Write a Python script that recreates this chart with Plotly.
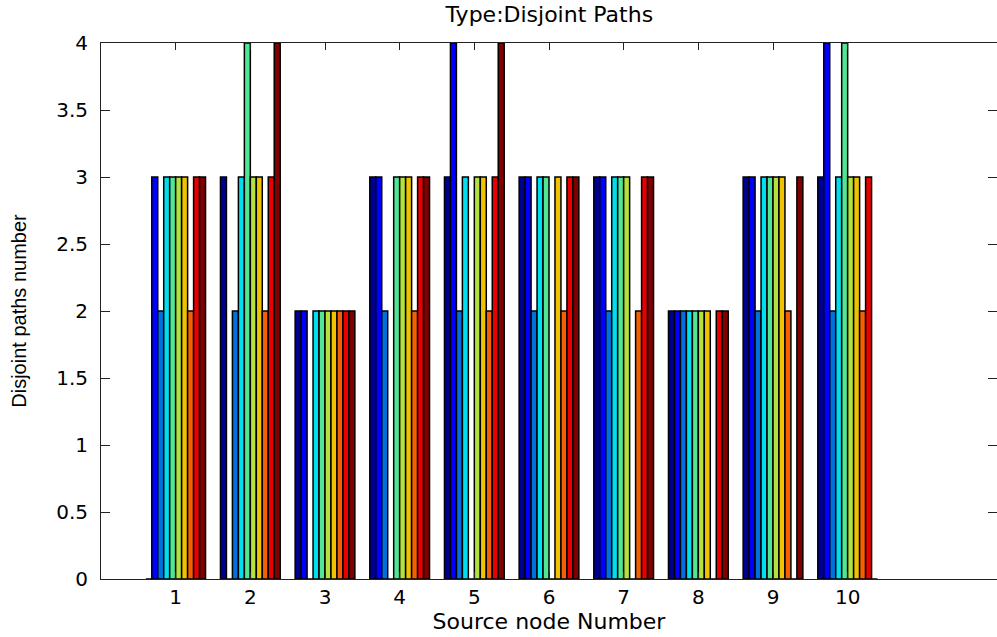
import plotly.graph_objects as go

# Source node numbers (groups)
nodes = [1, 2, 3, 4, 5, 6, 7, 8, 9, 10]

# Disjoint path counts from each source node (rows) to each destination node (series)
paths_node1 = [0, 3, 2, 3, 3, 3, 3, 2, 3, 3]
paths_node2 = [3, 0, 2, 3, 4, 3, 3, 2, 3, 4]
paths_node3 = [2, 2, 0, 2, 2, 2, 2, 2, 2, 2]
paths_node4 = [3, 3, 2, 0, 3, 3, 3, 2, 3, 3]
paths_node5 = [3, 4, 2, 3, 0, 3, 3, 2, 3, 4]
paths_node6 = [3, 3, 2, 3, 3, 0, 3, 2, 3, 3]
paths_node7 = [3, 3, 2, 3, 3, 3, 0, 2, 3, 3]
paths_node8 = [2, 2, 2, 2, 2, 2, 2, 0, 2, 2]
paths_node9 = [3, 3, 2, 3, 3, 3, 3, 2, 0, 3]
paths_node10 = [3, 4, 2, 3, 4, 3, 3, 2, 3, 0]

rows = [paths_node1, paths_node2, paths_node3, paths_node4, paths_node5,
        paths_node6, paths_node7, paths_node8, paths_node9, paths_node10]

# MATLAB jet colours sampled for 10 series
series_colors = [
    "rgb(0,0,143)", "rgb(0,0,255)", "rgb(0,112,220)", "rgb(0,223,240)",
    "rgb(80,230,150)", "rgb(180,225,60)", "rgb(240,195,0)", "rgb(245,96,0)",
    "rgb(235,0,0)", "rgb(128,0,0)",
]

title_text = "Type:Disjoint Paths"
x_title = "Source node Number"
y_title = "Disjoint paths number"

FONT = "DejaVu Sans"
FONT_V = "Liberation Sans"

fig = go.Figure()
for s in range(len(nodes)):
    fig.add_trace(go.Bar(
        x=nodes,
        y=[row[s] for row in rows],
        marker=dict(color=series_colors[s], line=dict(color="black", width=1.5)),
        showlegend=False,
        hoverinfo="skip",
    ))

fig.update_layout(
    width=997, height=637,
    margin=dict(l=101, r=0, t=43, b=58),
    paper_bgcolor="white", plot_bgcolor="white",
    barmode="group", bargap=0.2, bargroupgap=0.0,
    font=dict(family=FONT, size=20, color="black"),
    title=dict(text=title_text, x=0.551, xanchor="center", y=0.99, yanchor="top",
               font=dict(family=FONT, size=22, color="black")),
)

fig.update_xaxes(
    range=[0, 12], tickmode="array", tickvals=nodes, ticktext=[str(n) for n in nodes],
    ticks="inside", ticklen=7, tickwidth=1, tickcolor="#222",
    showline=True, linecolor="#222", linewidth=1, mirror="ticks",
    showgrid=False, zeroline=False,
    tickfont=dict(family=FONT, size=20, color="black"),
    title=dict(text=x_title, standoff=5, font=dict(family=FONT, size=22, color="black")),
    automargin=False,
)
fig.update_yaxes(
    range=[0, 4], dtick=0.5, tick0=0,
    ticks="inside", ticklen=9, tickwidth=1, tickcolor="#222",
    showline=True, linecolor="#222", linewidth=1, mirror="ticks",
    showgrid=False, zeroline=False,
    ticklabelstandoff=8,
    tickfont=dict(family=FONT, size=20, color="black"),
    title=dict(text=y_title, standoff=24, font=dict(family=FONT_V, size=20, color="black")),
    automargin=False,
)

fig.write_html("out.html")
